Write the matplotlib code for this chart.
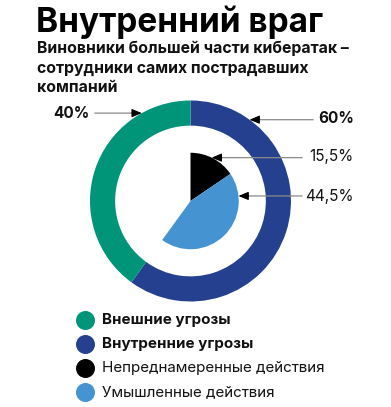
import matplotlib.pyplot as plt
import numpy as np

plt.rcParams['font.family'] = ['Inter', 'DejaVu Sans']

# Data
outer_labels = ["Внешние угрозы", "Внутренние угрозы"]
outer_values = [40, 60]
inner_labels = ["Непреднамеренные действия", "Умышленные действия"]
inner_values = [15.5, 44.5]
outer_text = ["40%", "60%"]
inner_text = ["15,5%", "44,5%"]

c_teal = "#009479"
c_navy = "#24408e"
c_black = "#000000"
c_light = "#4594d1"

W, H = 391, 407
fig = plt.figure(figsize=(W / 100, H / 100), dpi=100)


def px(x, y):
    return x / W, 1 - y / H


# axes covering full figure, 1 data unit = outer radius in px
cx, cy, R = 190.5, 201, 100.5
ax = fig.add_axes([0, 0, 1, 1])
ax.axis('off')

# outer ring: teal counter-clockwise from 12 o'clock, navy clockwise
ax.pie([outer_values[1], outer_values[0]], colors=[c_navy, c_teal], startangle=90,
       counterclock=False, radius=1.0, wedgeprops=dict(width=0.25, linewidth=0))

# inner pie: only the internal share, clockwise from 12 o'clock
ax.pie(inner_values + [100 - sum(inner_values)], colors=[c_black, c_light, 'none'],
       startangle=90, counterclock=False, radius=0.48, wedgeprops=dict(linewidth=0))
ax.set_xlim(-cx / R, (W - cx) / R)
ax.set_ylim(-(H - cy) / R, cy / R)
ax.set_aspect('auto')


def callout(text, ang, r, tx, ty, line_end_x, bold):
    a = np.deg2rad(ang)
    tip = (r * np.cos(a), r * np.sin(a))
    start = ((line_end_x - cx) / R, tip[1])
    ax.annotate("", xy=tip, xytext=start,
                arrowprops=dict(arrowstyle='-', color='#8a8a8a', lw=0.9))
    d = 0.1 if start[0] > tip[0] else -0.1
    ax.annotate("", xy=tip, xytext=(tip[0] + d, tip[1]),
                arrowprops=dict(arrowstyle='-|>,head_length=0.6,head_width=0.25',
                                color='black', lw=0.8, shrinkA=0, shrinkB=0))
    fig.text(*px(tx, ty), text, fontsize=11, fontweight='bold' if bold else 'normal',
             ha='left' if line_end_x < cx else 'right', va='center', color='#111111')


callout(outer_text[0], 119, 1.0, 53, 113, 92, True)
callout(outer_text[1], 54, 1.0, 354, 119, 316, True)
callout(inner_text[0], 64, 0.48, 354, 157, 305, False)
callout(inner_text[1], 6, 0.48, 354, 196, 305, False)

# titles
fig.text(*px(36, 22), "Внутренний враг", fontsize=24, fontweight='bold', va='center', ha='left')
for i, line in enumerate(["Виновники большей части кибератак –",
                          "сотрудники самих пострадавших", "компаний"]):
    fig.text(*px(37, 48 + i * 20), line, fontsize=11.4,
             fontweight='bold', va='center', ha='left', color='#111111')

# legend
leg_colors = [c_teal, c_navy, c_black, c_light]
leg_labels = outer_labels + inner_labels
leg_bold = [True, True, False, False]
for i, (col, lab, b) in enumerate(zip(leg_colors, leg_labels, leg_bold)):
    y = 320 + i * 24
    fx, fy = px(85, y)
    ax.scatter([fx], [fy], s=160, color=col, transform=fig.transFigure, clip_on=False)
    fig.text(*px(102, y), lab, fontsize=10.9, fontweight='bold' if b else 'normal',
             va='center', ha='left', color='#111111')

fig.savefig('out.png', dpi=100)
